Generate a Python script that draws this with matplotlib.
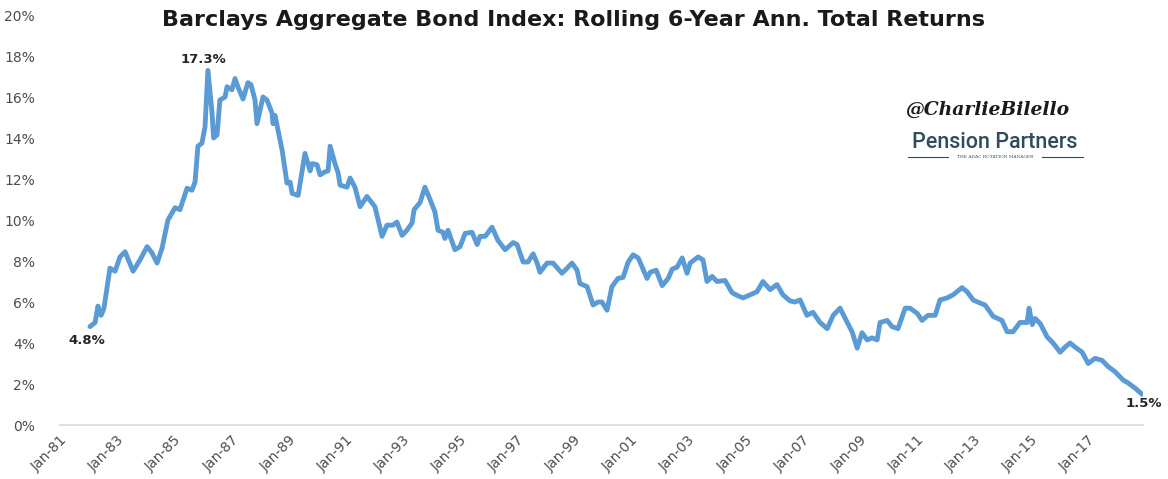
import matplotlib
matplotlib.use("Agg")
import matplotlib.pyplot as plt
from matplotlib.lines import Line2D

# ---- data (decimal year, rolling 6-yr annualized total return in %) ----
dates = [
    1982.05, 1982.23, 1982.33, 1982.44, 1982.54, 1982.75, 1982.93, 1983.10, 1983.28, 1983.56,
    1983.80, 1984.05, 1984.22, 1984.40, 1984.57, 1984.78, 1985.03, 1985.20, 1985.45, 1985.62,
    1985.73, 1985.83, 1985.97, 1986.08, 1986.18, 1986.32, 1986.38, 1986.50, 1986.60, 1986.78,
    1986.85, 1987.02, 1987.13, 1987.23, 1987.41, 1987.58, 1987.69, 1987.83, 1987.90, 1988.11,
    1988.25, 1988.43, 1988.46, 1988.53, 1988.78, 1988.95, 1989.06, 1989.13, 1989.34, 1989.58,
    1989.76, 1989.83, 1990.00, 1990.11, 1990.28, 1990.39, 1990.46, 1990.63, 1990.74, 1990.81,
    1991.05, 1991.16, 1991.33, 1991.51, 1991.75, 1992.03, 1992.28, 1992.45, 1992.66, 1992.80,
    1992.98, 1993.15, 1993.33, 1993.40, 1993.61, 1993.78, 1993.96, 1994.13, 1994.24, 1994.41,
    1994.48, 1994.59, 1994.83, 1995.01, 1995.19, 1995.43, 1995.61, 1995.71, 1995.89, 1996.13,
    1996.34, 1996.59, 1996.87, 1997.01, 1997.22, 1997.39, 1997.57, 1997.71, 1997.81, 1998.06,
    1998.27, 1998.58, 1998.76, 1998.93, 1999.11, 1999.21, 1999.46, 1999.67, 1999.84, 1999.98,
    2000.16, 2000.33, 2000.54, 2000.72, 2000.90, 2001.07, 2001.25, 2001.42, 2001.56, 2001.67,
    2001.88, 2002.09, 2002.30, 2002.44, 2002.61, 2002.79, 2002.96, 2003.07, 2003.35, 2003.52,
    2003.66, 2003.84, 2004.01, 2004.29, 2004.54, 2004.75, 2004.92, 2005.17, 2005.41, 2005.62,
    2005.87, 2006.11, 2006.32, 2006.57, 2006.74, 2006.92, 2007.16, 2007.37, 2007.62, 2007.87,
    2008.08, 2008.32, 2008.50, 2008.74, 2008.92, 2009.09, 2009.27, 2009.44, 2009.62, 2009.72,
    2009.97, 2010.14, 2010.35, 2010.60, 2010.77, 2011.02, 2011.19, 2011.40, 2011.65, 2011.82,
    2012.07, 2012.28, 2012.59, 2012.77, 2012.98, 2013.22, 2013.40, 2013.68, 2013.99, 2014.17,
    2014.38, 2014.62, 2014.87, 2014.94, 2015.05, 2015.15, 2015.33, 2015.57, 2015.78, 2016.03,
    2016.20, 2016.38, 2016.55, 2016.80, 2017.01, 2017.25, 2017.50, 2017.71, 2017.95, 2018.23,
    2018.41, 2018.65, 2018.90,
]
returns_pct = [
    4.8, 5.0, 5.8, 5.35, 5.7, 7.65, 7.5, 8.2, 8.45, 7.5,
    8.05, 8.7, 8.4, 7.9, 8.6, 10.0, 10.6, 10.5, 11.55, 11.45,
    11.85, 13.6, 13.75, 14.55, 17.3, 15.3, 14.0, 14.15, 15.85, 16.0,
    16.5, 16.35, 16.9, 16.5, 15.9, 16.7, 16.6, 15.85, 14.7, 16.0,
    15.85, 15.2, 14.7, 15.1, 13.4, 11.8, 11.85, 11.3, 11.2, 13.25,
    12.4, 12.75, 12.7, 12.2, 12.35, 12.4, 13.6, 12.75, 12.3, 11.7,
    11.6, 12.05, 11.6, 10.65, 11.15, 10.65, 9.2, 9.75, 9.75, 9.9,
    9.25, 9.5, 9.85, 10.5, 10.85, 11.6, 11.0, 10.4, 9.5, 9.4,
    9.1, 9.5, 8.55, 8.7, 9.35, 9.4, 8.8, 9.2, 9.2, 9.65,
    9.0, 8.55, 8.9, 8.8, 7.95, 7.95, 8.35, 7.9, 7.45, 7.9,
    7.9, 7.4, 7.65, 7.9, 7.55, 6.9, 6.75, 5.85, 6.0, 6.0,
    5.6, 6.75, 7.15, 7.2, 7.95, 8.3, 8.15, 7.6, 7.15, 7.45,
    7.55, 6.8, 7.15, 7.6, 7.7, 8.15, 7.4, 7.9, 8.2, 8.05,
    7.0, 7.25, 7.0, 7.05, 6.45, 6.3, 6.2, 6.35, 6.5, 7.0,
    6.6, 6.85, 6.35, 6.05, 6.0, 6.1, 5.35, 5.5, 5.0, 4.7,
    5.35, 5.7, 5.2, 4.55, 3.75, 4.5, 4.15, 4.25, 4.15, 5.0,
    5.1, 4.8, 4.7, 5.7, 5.7, 5.45, 5.1, 5.35, 5.35, 6.1,
    6.2, 6.35, 6.7, 6.5, 6.1, 5.95, 5.85, 5.3, 5.1, 4.55,
    4.55, 5.0, 5.0, 5.7, 4.9, 5.2, 4.95, 4.3, 4.0, 3.55,
    3.8, 4.0, 3.8, 3.55, 3.0, 3.25, 3.15, 2.85, 2.6, 2.2,
    2.05, 1.8, 1.5,
]
tick_years = list(range(1981, 2019, 2))
tick_labels = ["Jan-%02d" % (y % 100) for y in tick_years]
y_ticks = [0, 2, 4, 6, 8, 10, 12, 14, 16, 18, 20]
y_tick_labels = ["%d%%" % v for v in y_ticks]
annotations = [("17.3%", 1986.18, 17.3), ("4.8%", 1982.05, 4.8), ("1.5%", 2018.90, 1.5)]

title = "Barclays Aggregate Bond Index: Rolling 6-Year Ann. Total Returns"

# ---- figure ----
fig = plt.figure(figsize=(11.68, 4.79), dpi=100)
ax = fig.add_axes([0.05137, 0.11273, 0.92723, 0.85595])

ax.plot(dates, returns_pct, color="#5B9BD5", lw=3.5, solid_joinstyle="round",
        solid_capstyle="round")

ax.set_xlim(1981.0, 2018.93)
ax.set_ylim(0, 20)
ax.set_yticks(y_ticks)
ax.set_yticklabels(y_tick_labels)
ax.set_xticks(tick_years)
ax.set_xticklabels(tick_labels, rotation=45, ha="right", rotation_mode="anchor")

for s in ["top", "right", "left"]:
    ax.spines[s].set_visible(False)
ax.spines["bottom"].set_color("#D9D9D9")
ax.spines["bottom"].set_linewidth(1.2)
ax.tick_params(axis="both", length=0, colors="#4D4D4D", labelsize=10)
ax.tick_params(axis="y", pad=18)
ax.tick_params(axis="x", pad=6)

# data labels
ax.annotate(annotations[0][0], (annotations[0][1], annotations[0][2]), xytext=(-3, 3),
            textcoords="offset points", ha="center", va="bottom",
            fontsize=9.5, fontweight="bold", color="#262626")
ax.annotate(annotations[1][0], (annotations[1][1], annotations[1][2]), xytext=(-2, -5),
            textcoords="offset points", ha="center", va="top",
            fontsize=9.5, fontweight="bold", color="#262626")
ax.annotate(annotations[2][0], (annotations[2][1], annotations[2][2]), xytext=(-12, -2),
            textcoords="offset points", ha="left", va="top",
            fontsize=9.5, fontweight="bold", color="#262626", annotation_clip=False)

# title
fig.text(0.4906, 0.958, title, ha="center", va="center", fontsize=16,
         fontweight="bold", color="#1a1a1a")

# watermark
fig.text(0.845, 0.771, "@CharlieBilello", ha="center", va="center", fontsize=13.5,
         fontstyle="italic", fontweight="bold", color="#1a1a1a", family="DejaVu Serif")
fig.text(0.852, 0.703, "Pension Partners", ha="center", va="center", fontsize=15.5,
         fontweight="medium", color="#2F4B5C", family="Roboto")
fig.text(0.852, 0.672, "THE ADAC ROTATION MANAGER", ha="center", va="center",
         fontsize=3.2, color="#2F4B5C", family="DejaVu Serif")
fig.add_artist(Line2D([0.777, 0.812], [0.672, 0.672], color="#2F4B5C", lw=0.8))
fig.add_artist(Line2D([0.892, 0.927], [0.672, 0.672], color="#2F4B5C", lw=0.8))

fig.savefig("out.png", dpi=100)
